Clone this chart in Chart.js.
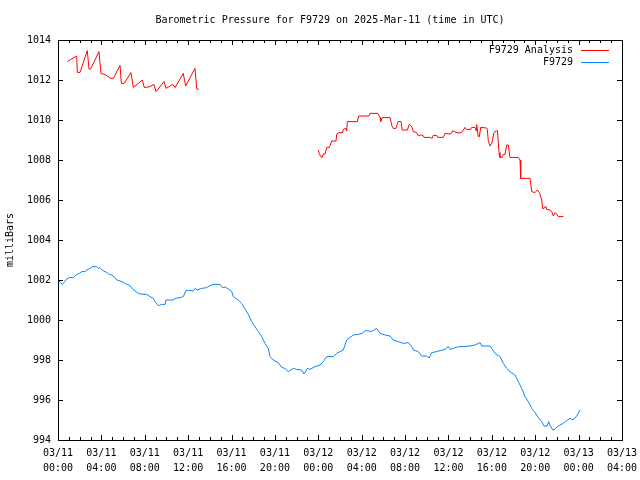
<!DOCTYPE html>
<html>
<head>
<meta charset="utf-8">
<script src="https://cdn.jsdelivr.net/npm/chart.js@4.4.1/dist/chart.umd.min.js"></script>
<style>
  html, body { margin: 0; padding: 0; background: #fff; }
</style>
</head>
<body>
<canvas id="chart" width="640" height="480"></canvas>
<script>
// hours since 03/11 00:00 UTC
const xTickLabels = [
  ['03/11', '00:00'], ['03/11', '04:00'], ['03/11', '08:00'], ['03/11', '12:00'],
  ['03/11', '16:00'], ['03/11', '20:00'], ['03/12', '00:00'], ['03/12', '04:00'],
  ['03/12', '08:00'], ['03/12', '12:00'], ['03/12', '16:00'], ['03/12', '20:00'],
  ['03/13', '00:00'], ['03/13', '04:00']
];
const yTicks = [994, 996, 998, 1000, 1002, 1004, 1006, 1008, 1010, 1012, 1014];

const analysisHoursA = [0.86, 1.72, 1.78, 2.03, 2.70, 2.86, 3.01, 3.78, 3.96, 4.33, 4.89, 5.10, 5.72, 5.84, 6.09,
  6.73, 6.94, 7.40, 7.77, 7.96, 8.48, 8.85, 9.04, 9.78, 9.96, 10.58, 10.79, 11.55, 11.77, 12.63, 12.79, 12.97];
const analysisValuesA = [1012.92, 1013.20, 1012.38, 1012.38, 1013.47, 1012.55, 1012.55, 1013.42, 1012.33, 1012.27,
  1012.08, 1012.08, 1012.73, 1011.83, 1011.83, 1012.37, 1011.63, 1011.83, 1012.00, 1011.62, 1011.67, 1011.78,
  1011.42, 1011.92, 1011.58, 1011.78, 1011.62, 1012.33, 1011.70, 1012.58, 1011.55, 1011.53];

const analysisHoursB = [24.00, 24.09, 24.22, 24.37, 24.46, 24.62, 24.77, 25.01, 25.24, 25.63, 25.70, 25.91, 26.25,
  26.30, 26.55, 26.62, 26.67, 27.60, 27.72, 28.67, 28.77, 29.48, 29.69, 29.75, 29.90, 30.61, 30.79, 30.91, 31.16,
  31.35, 31.62, 31.74, 32.21, 32.39, 32.61, 32.76, 33.07, 33.22, 33.38, 33.63, 33.75, 34.36, 34.48, 34.60, 34.92,
  35.01, 35.52, 35.68, 36.21, 36.39, 36.60, 36.88, 37.22, 37.53, 37.68, 38.05, 38.14, 38.45, 38.54, 38.60, 38.75,
  38.85, 38.97, 39.53, 39.58, 39.67, 39.83, 39.99, 40.20, 40.45, 40.52, 40.66, 40.75, 40.96, 41.06, 41.21, 41.37,
  41.52, 41.67, 42.44, 42.60, 42.66, 43.52, 43.68, 43.98, 44.19, 44.38, 44.60, 44.69, 44.81, 44.97, 45.06, 45.36,
  45.52, 45.67, 45.82, 45.98, 46.13, 46.59];
const analysisValuesB = [1008.50, 1008.33, 1008.17, 1008.13, 1008.30, 1008.30, 1008.62, 1008.62, 1008.95, 1008.95,
  1009.30, 1009.37, 1009.37, 1009.53, 1009.58, 1009.45, 1009.92, 1009.92, 1010.20, 1010.20, 1010.33, 1010.33,
  1010.12, 1009.92, 1010.12, 1010.12, 1009.70, 1009.58, 1009.58, 1009.92, 1009.92, 1009.50, 1009.50, 1009.78,
  1009.67, 1009.42, 1009.37, 1009.20, 1009.25, 1009.25, 1009.13, 1009.13, 1009.07, 1009.23, 1009.23, 1009.13,
  1009.13, 1009.33, 1009.30, 1009.47, 1009.40, 1009.35, 1009.37, 1009.63, 1009.53, 1009.53, 1009.63, 1009.63,
  1009.47, 1009.77, 1009.17, 1009.17, 1009.63, 1009.60, 1009.53, 1008.97, 1008.70, 1008.83, 1009.37, 1009.47,
  1009.47, 1008.37, 1008.13, 1008.13, 1008.28, 1008.28, 1008.75, 1008.75, 1008.13, 1008.13, 1008.00, 1007.08,
  1007.08, 1006.42, 1006.37, 1006.50, 1006.37, 1006.00, 1005.57, 1005.58, 1005.70, 1005.53, 1005.50, 1005.42,
  1005.20, 1005.37, 1005.30, 1005.17, 1005.17];

const stationHours = [0.09, 0.40, 0.80, 1.04, 1.41, 1.66, 1.96, 2.19, 2.49, 2.65, 2.95, 3.20, 3.57, 3.72, 3.87,
  4.18, 4.49, 4.73, 4.98, 5.26, 5.41, 5.72, 6.02, 6.33, 6.57, 6.89, 7.26, 7.56, 8.18, 8.48, 8.79, 8.94, 9.25, 9.56,
  9.87, 9.96, 10.58, 10.79, 11.25, 11.55, 11.80, 12.17, 12.47, 12.63, 12.82, 13.25, 13.71, 14.01, 14.32, 14.94,
  15.15, 15.40, 15.70, 16.02, 16.16, 16.62, 16.94, 17.24, 17.55, 17.86, 18.16, 18.47, 18.78, 19.09, 19.39, 19.55,
  19.85, 20.31, 20.63, 20.93, 21.23, 21.69, 22.01, 22.47, 22.68, 22.99, 23.23, 23.70, 24.16, 24.46, 24.77, 25.38,
  25.70, 26.00, 26.30, 26.46, 26.62, 26.92, 27.23, 27.69, 28.03, 28.31, 28.92, 29.38, 29.69, 30.15, 30.61, 30.91,
  31.38, 31.84, 32.30, 32.61, 32.76, 33.22, 33.53, 33.99, 34.23, 34.46, 34.92, 35.22, 35.68, 35.99, 36.14, 36.45,
  36.91, 37.37, 37.99, 38.45, 38.91, 39.07, 39.83, 39.99, 40.29, 40.75, 40.91, 41.06, 41.37, 41.67, 42.14, 42.44,
  42.75, 43.06, 43.36, 43.68, 43.98, 44.28, 44.60, 44.81, 45.11, 45.24, 45.36, 45.61, 45.82, 46.04, 46.28, 46.59,
  46.90, 47.21, 47.51, 47.82, 48.13];
const stationValues = [1001.95, 1001.78, 1002.05, 1002.12, 1002.12, 1002.25, 1002.33, 1002.42, 1002.42, 1002.50,
  1002.58, 1002.67, 1002.67, 1002.58, 1002.62, 1002.45, 1002.38, 1002.28, 1002.25, 1002.12, 1002.00, 1001.95,
  1001.88, 1001.78, 1001.75, 1001.55, 1001.38, 1001.30, 1001.28, 1001.17, 1001.08, 1000.92, 1000.72, 1000.78,
  1000.78, 1001.00, 1001.00, 1001.08, 1001.12, 1001.17, 1001.48, 1001.48, 1001.45, 1001.58, 1001.50, 1001.58,
  1001.62, 1001.72, 1001.78, 1001.78, 1001.62, 1001.65, 1001.55, 1001.42, 1001.17, 1001.00, 1000.83, 1000.55,
  1000.28, 999.92, 999.67, 999.42, 999.17, 998.83, 998.58, 998.17, 998.00, 997.87, 997.63, 997.58, 997.42, 997.58,
  997.53, 997.50, 997.30, 997.58, 997.53, 997.67, 997.75, 997.92, 998.17, 998.17, 998.33, 998.42, 998.50, 998.75,
  999.00, 999.13, 999.25, 999.28, 999.33, 999.47, 999.43, 999.58, 999.33, 999.25, 999.20, 999.00, 998.92, 998.83,
  998.87, 998.67, 998.50, 998.42, 998.20, 998.20, 998.10, 998.37, 998.42, 998.47, 998.53, 998.67, 998.53, 998.58,
  998.67, 998.67, 998.70, 998.75, 998.87, 998.70, 998.70, 998.58, 998.33, 998.17, 998.00, 997.83, 997.58, 997.42,
  997.25, 996.92, 996.58, 996.17, 995.92, 995.58, 995.37, 995.13, 994.92, 994.70, 994.70, 994.92, 994.75, 994.50,
  994.53, 994.67, 994.75, 994.83, 994.97, 995.08, 995.00, 995.20, 995.50];

const FONT = 'DejaVu Sans Mono';
const TITLE = 'Barometric Pressure for F9729 on 2025-Mar-11 (time in UTC)';

function toPoints(hours, values) {
  return hours.map((h, i) => ({ x: h, y: values[i] }));
}

const analysisData = toPoints(analysisHoursA, analysisValuesA)
  .concat([{ x: 18, y: null }])
  .concat(toPoints(analysisHoursB, analysisValuesB));

// gnuplot-like title, frame, inward ticks and legend
const framePlugin = {
  id: 'frame',
  afterDraw(chart) {
    const ctx = chart.ctx;
    const a = chart.chartArea;
    const xs = chart.scales.x;
    const ys = chart.scales.y;
    ctx.save();
    ctx.strokeStyle = '#000';
    ctx.lineWidth = 1;
    ctx.beginPath();
    for (let h = 0; h <= 52; h++) {
      const px = Math.round(xs.getPixelForValue(h)) + 0.5;
      const len = h % 4 === 0 ? 5 : 3;
      ctx.moveTo(px, a.bottom); ctx.lineTo(px, a.bottom - len);
      ctx.moveTo(px, a.top); ctx.lineTo(px, a.top + len);
    }
    yTicks.forEach(v => {
      const py = Math.round(ys.getPixelForValue(v)) + 0.5;
      ctx.moveTo(a.left, py); ctx.lineTo(a.left + 5, py);
      ctx.moveTo(a.right, py); ctx.lineTo(a.right - 5, py);
    });
    ctx.stroke();
    ctx.strokeRect(Math.round(a.left) + 0.5, Math.round(a.top) + 0.5,
      Math.round(a.right - a.left), Math.round(a.bottom - a.top));

    ctx.font = '10px ' + FONT;
    ctx.fillStyle = '#000';
    ctx.textAlign = 'center';
    ctx.textBaseline = 'middle';
    ctx.fillText(TITLE, 330, 20);

    ctx.textAlign = 'right';
    chart.data.datasets.forEach((ds, i) => {
      const y = a.top + 10 + i * 12;
      ctx.fillStyle = '#000';
      ctx.fillText(ds.label, a.right - 49, y);
      ctx.strokeStyle = ds.borderColor;
      ctx.beginPath();
      ctx.moveTo(a.right - 41, Math.round(y) + 0.5);
      ctx.lineTo(a.right - 13, Math.round(y) + 0.5);
      ctx.stroke();
    });
    ctx.restore();
  }
};

new Chart(document.getElementById('chart'), {
  type: 'line',
  data: {
    datasets: [{
      label: 'F9729 Analysis',
      data: analysisData,
      borderColor: '#ff0000',
      borderWidth: 1,
      pointRadius: 0,
      spanGaps: false
    }, {
      label: 'F9729',
      data: toPoints(stationHours, stationValues),
      borderColor: '#0a84ff',
      borderWidth: 1,
      pointRadius: 0
    }]
  },
  options: {
    responsive: false,
    animation: false,
    layout: { padding: { left: 0, right: 18, top: 40, bottom: 0 } },
    plugins: {
      legend: { display: false },
      tooltip: { enabled: false },
      title: { display: false }
    },
    scales: {
      x: {
        type: 'linear',
        min: 0,
        max: 52,
        grid: { display: false, drawTicks: false },
        border: { display: false },
        ticks: {
          stepSize: 4,
          autoSkip: false,
          maxRotation: 0,
          padding: 6,
          color: '#000',
          font: { family: FONT, size: 10, lineHeight: 1.5 },
          callback: v => xTickLabels[Math.round(v / 4)]
        },
        afterFit: s => { s.height = 40; s.paddingLeft = 0; s.paddingRight = 0; }
      },
      y: {
        min: 994,
        max: 1014,
        grid: { display: false, drawTicks: false },
        border: { display: false },
        title: {
          display: true,
          text: 'milliBars',
          color: '#000',
          font: { family: FONT, size: 10, lineHeight: 1.2 },
          padding: { top: 4, bottom: 0 }
        },
        ticks: {
          stepSize: 2,
          padding: 7,
          color: '#000',
          font: { family: FONT, size: 10 },
          callback: v => String(v)
        },
        afterFit: s => { s.width = 58; s.paddingTop = 0; s.paddingBottom = 0; }
      }
    }
  },
  plugins: [framePlugin]
});
</script>
</body>
</html>
